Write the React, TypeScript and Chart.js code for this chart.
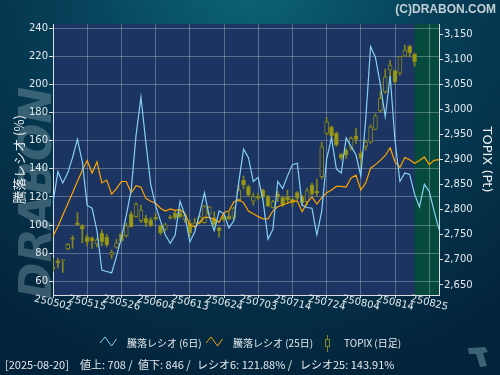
import { useEffect, useRef } from "react";
import { Chart, registerables } from "chart.js";

Chart.register(...registerables);

// ---------- data ----------
const dates = [
  "250502","250507","250508","250509","250512","250513","250514","250515","250516","250519",
  "250520","250521","250522","250523","250526","250527","250528","250529","250530",
  "250602","250603","250604","250605","250606","250609","250610","250611","250612","250613",
  "250616","250617","250618","250619","250620","250623","250624","250625","250626","250627","250630",
  "250701","250702","250703","250704","250707","250708","250709","250710","250711","250714",
  "250715","250716","250717","250718","250722","250723","250724","250725","250728","250729",
  "250730","250731",
  "250801","250804","250805","250806","250807","250808","250812","250813","250814","250815",
  "250818","250819","250820","250821","250822","250825","250826","250827",
];

const ratio6 = [
  116,138,130,137,148,161,145,114,112,96,
  68,67,66,78,91,107,125,164,191,159,
  129,114,103,93,87,93,117,107,88,95,
  108,123,106,96,110,108,98,103,130,154,
  148,131,134,117,90,97,131,126,135,143,
  144,114,112.5,112,93,110,147,162,140,137,
  162,156,150,135,175,227,219,200,177,206,
  160,131,137,136,122,113,129,124,110,97,
];

const ratio25 = [
  92,99,107,115,123,131,139,146,137,145,
  130,132,122,126,131,131,123,128,127,119,
  117,115.5,112,110,111.5,110.5,111,108,100,99,
  102,105.5,105.5,104,102,109,110,116.5,118,116,
  110,108,106,104.5,104.5,110,113,114.5,115.5,117,
  117,109.5,116,120,115,119.5,123,125,127.5,127.5,
  127,133.5,135.5,125,130,140.5,143,146,149.5,155,
  145,141,148,146.5,144,146,148.5,143,146,146.5,
];

const topixOpen = [
  2686,2698,2698,2722,2744,2774,2768,2746,2744,2732,
  2753,2745,2710,2725,2751,2748,2791,2786,2778,2783,
  2780,2785,2768,2761,2786,2793,2793,2780,2773,2766,
  2774,2774,2791,2784,2764,2787,2787,2783,2819,2859,
  2846,2817,2827,2839,2826,2804,2831,2824,2826,2821,
  2834,2826,2816,2849,2837,2866,2952,2964,2952,2911,
  2919,2922,2947,2913,2926,2935,2960,2997,3035,3078,
  3077,3072,3106,3126,3110,
];
const topixHigh = [
  2703,2703,2701,2733,2748,2794,2771,2750,2746,2744,
  2760,2751,2720,2741,2754,2773,2796,2814,2809,2789,
  2784,2793,2770,2773,2789,2798,2801,2793,2780,2783,
  2789,2809,2807,2796,2766,2793,2794,2806,2849,2867,
  2849,2833,2833,2841,2829,2819,2836,2827,2839,2823,
  2836,2829,2843,2853,2861,2935,2984,2967,2955,2912,
  2922,2945,2962,2916,2939,2969,2991,3035,3080,3098,
  3078,3106,3128,3128,3112,
];
const topixLow = [
  2677,2684,2675,2720,2723,2769,2734,2728,2723,2726,
  2728,2726,2703,2723,2736,2745,2765,2785,2774,2766,
  2766,2780,2750,2758,2781,2781,2783,2774,2746,2763,
  2772,2773,2789,2766,2745,2776,2780,2780,2816,2841,
  2826,2809,2819,2823,2806,2803,2816,2806,2813,2806,
  2819,2809,2809,2829,2826,2861,2949,2939,2926,2899,
  2902,2919,2932,2886,2919,2932,2959,2995,3032,3052,
  3052,3068,3105,3104,3086,
];
const topixClose = [
  2682,2694,2700,2731,2741,2770,2761,2736,2738,2740,
  2736,2730,2715,2734,2738,2768,2766,2811,2799,2774,
  2768,2781,2754,2770,2783,2784,2786,2789,2754,2774,
  2786,2806,2805,2770,2758,2780,2781,2803,2839,2849,
  2829,2826,2823,2826,2807,2816,2825,2809,2819,2814,
  2823,2814,2838,2831,2833,2925,2975,2947,2929,2903,
  2909,2942,2940,2902,2935,2965,2987,3022,3064,3088,
  3055,3105,3118,3113,3095,
];

const leftTicks = [60, 80, 100, 120, 140, 160, 180, 200, 220, 240];
const rightTicks = [2650, 2700, 2750, 2800, 2850, 2900, 2950, 3000, 3050, 3100, 3150];
const labelEvery = 7;
const lastDataIndex = 74;

const footerDate = "2025-08-20";
const advances = 708;
const declines = 846;
const ratio6Last = "121.88";
const ratio25Last = "143.91";

const legendLabels = ["騰落レシオ (6日)", "騰落レシオ (25日)", "TOPIX (日足)"];

// ---------- styles ----------
const PLOT_BG = "#1b3461";
const FUTURE_BG = "#054a3c";
const GRID = "rgba(255,255,255,0.28)";
const AXIS = "#d8dee4";
const TEXT = "#e4eaee";
const BLUE = "#87d0f5";
const ORANGE = "#ffa500";
const CANDLE_FILL = "#9a9a16";
const CANDLE_EDGE = "#85851c";
const CJK = '"Noto Sans CJK JP", "DejaVu Sans", sans-serif';
const LATIN = '"DejaVu Sans", sans-serif';

const decorPlugin = {
  id: "decor",
  beforeDraw(chart: any) {
    const { ctx, chartArea: a, width, height } = chart;
    ctx.save();
    const g = ctx.createRadialGradient(250, -30, 10, 250, -30, 430);
    g.addColorStop(0, "#0b6474");
    g.addColorStop(0.45, "#063e56");
    g.addColorStop(1, "#03233a");
    ctx.fillStyle = g;
    ctx.fillRect(0, 0, width, height);

    // watermark
    ctx.save();
    ctx.translate(51, 193);
    ctx.rotate(-Math.PI / 2);
    ctx.font = 'italic bold 44px "DejaVu Sans"';
    ctx.textAlign = "center";
    ctx.textBaseline = "alphabetic";
    ctx.fillStyle = "rgba(120,150,165,0.45)";
    ctx.fillText("DRABON", 0, 0);
    ctx.restore();

    ctx.fillStyle = PLOT_BG;
    ctx.fillRect(a.left, a.top, a.right - a.left, a.bottom - a.top);
    const fx = chart.scales.x.getPixelForValue(lastDataIndex);
    ctx.fillStyle = FUTURE_BG;
    ctx.fillRect(fx, a.top, a.right - fx, a.bottom - a.top);
    ctx.restore();
  },
  afterDraw(chart: any) {
    const { ctx, chartArea: a } = chart;
    const xs = chart.scales.x;
    ctx.save();

    // x labels (slanted)
    ctx.font = `10px ${LATIN}`;
    ctx.fillStyle = TEXT;
    ctx.textAlign = "center";
    ctx.textBaseline = "middle";
    dates.forEach((d, i) => {
      if (i % labelEvery !== 0) return;
      const x = xs.getPixelForValue(i);
      ctx.save();
      ctx.translate(x, a.bottom + 8);
      ctx.rotate((13 * Math.PI) / 180);
      ctx.fillText(d, 0, 0);
      ctx.restore();
    });

    // axis titles
    ctx.save();
    ctx.translate(19, (a.top + a.bottom) / 2);
    ctx.rotate(-Math.PI / 2);
    ctx.font = `13px ${CJK}`;
    ctx.fillStyle = "#eef2f4";
    ctx.textAlign = "center";
    ctx.textBaseline = "middle";
    ctx.fillText("騰落レシオ (%)", 0, 0);
    ctx.restore();

    ctx.save();
    ctx.translate(486, (a.top + a.bottom) / 2);
    ctx.rotate(Math.PI / 2);
    ctx.font = `13px ${LATIN}`;
    ctx.fillStyle = "#eef2f4";
    ctx.textAlign = "center";
    ctx.textBaseline = "middle";
    ctx.fillText("TOPIX (Pt)", 0, 0);
    ctx.restore();

    // header
    ctx.font = 'bold 12px "Liberation Sans", sans-serif';
    ctx.fillStyle = "#c4cfd6";
    ctx.textAlign = "right";
    ctx.textBaseline = "alphabetic";
    ctx.fillText("(C)DRABON.COM", 496, 13);

    // legend
    const ly = 343;
    const zig = (x0: number, col: string) => {
      ctx.strokeStyle = col;
      ctx.lineWidth = 1;
      ctx.beginPath();
      ctx.moveTo(x0, ly);
      ctx.lineTo(x0 + 5, ly - 6);
      ctx.lineTo(x0 + 11.5, ly + 3);
      ctx.lineTo(x0 + 16.5, ly - 4);
      ctx.stroke();
    };
    zig(100, BLUE);
    zig(206, ORANGE);
    ctx.strokeStyle = CANDLE_EDGE;
    ctx.beginPath();
    ctx.moveTo(327.5, 335);
    ctx.lineTo(327.5, 352);
    ctx.stroke();
    ctx.fillStyle = "#06304a";
    ctx.fillRect(325, 339, 5, 8);
    ctx.strokeRect(325.5, 339.5, 4, 7);

    ctx.font = `10px ${CJK}`;
    ctx.fillStyle = TEXT;
    ctx.textAlign = "left";
    ctx.textBaseline = "middle";
    ctx.fillText(legendLabels[0], 127, ly);
    ctx.fillText(legendLabels[1], 233, ly);
    ctx.fillText(legendLabels[2], 344, ly);

    // footer
    ctx.font = `11px ${CJK}`;
    ctx.textBaseline = "alphabetic";
    const segs: [string, number][] = [
      [`[${footerDate}]`, 5],
      [`値上: ${advances} /`, 80],
      [`値下: ${declines} /`, 138],
      [`レシオ6: ${ratio6Last}% /`, 197],
      [`レシオ25: ${ratio25Last}%`, 300],
    ];
    segs.forEach(([t, x]) => ctx.fillText(t, x, 369));

    // small logo
    ctx.fillStyle = "#3c6276";
    ctx.beginPath();
    ctx.moveTo(468, 348);
    ctx.lineTo(485, 347);
    ctx.lineTo(488, 352);
    ctx.lineTo(483, 353);
    ctx.lineTo(487, 366);
    ctx.lineTo(480, 367);
    ctx.lineTo(476, 354);
    ctx.lineTo(469, 354);
    ctx.closePath();
    ctx.fill();

    ctx.restore();
  },
};

export default function App() {
  const ref = useRef<HTMLCanvasElement>(null);

  useEffect(() => {
    if (!ref.current) return;
    const n = topixOpen.length;
    const body = dates.map((_, i) => (i < n ? [topixOpen[i], topixClose[i]] : null));
    const wick = dates.map((_, i) => (i < n ? [topixLow[i], topixHigh[i]] : null));
    const bodyBg = dates.map((_, i) =>
      i < n && topixClose[i] < topixOpen[i] ? CANDLE_FILL : PLOT_BG
    );

    const chart = new Chart(ref.current, {
      type: "line",
      data: {
        labels: dates,
        datasets: [
          {
            type: "line",
            label: legendLabels[0],
            data: ratio6,
            yAxisID: "y",
            borderColor: BLUE,
            borderWidth: 1.2,
            pointRadius: 0,
            tension: 0,
            order: 0,
          },
          {
            type: "line",
            label: legendLabels[1],
            data: ratio25,
            yAxisID: "y",
            borderColor: ORANGE,
            borderWidth: 1.2,
            pointRadius: 0,
            tension: 0,
            order: 0,
          },
          {
            type: "bar",
            label: "body",
            data: body as any,
            yAxisID: "y2",
            backgroundColor: bodyBg,
            borderColor: CANDLE_EDGE,
            borderWidth: 1,
            borderSkipped: false,
            barThickness: 4,
            grouped: false,
            order: 1,
          },
          {
            type: "bar",
            label: "wick",
            data: wick as any,
            yAxisID: "y2",
            backgroundColor: CANDLE_EDGE,
            borderWidth: 0,
            barThickness: 1,
            grouped: false,
            order: 2,
          },
        ],
      } as any,
      options: {
        responsive: false,
        animation: false,
        events: [],
        layout: { padding: { top: 24, left: 0, right: 0, bottom: 0 } },
        plugins: { legend: { display: false }, tooltip: { enabled: false } },
        scales: {
          x: {
            type: "category",
            offset: false,
            grid: {
              offset: false,
              color: (c: any) => (c.index % labelEvery === 0 ? GRID : "rgba(0,0,0,0)"),
              tickColor: (c: any) => (c.index % labelEvery === 0 ? AXIS : "rgba(0,0,0,0)"),
              tickLength: 3,
            },
            border: { color: AXIS },
            ticks: { display: false, autoSkip: false },
            afterFit: (s: any) => {
              s.height = 80;
            },
          },
          y: {
            type: "linear",
            position: "left",
            min: 50.3,
            max: 243,
            afterBuildTicks: (s: any) => {
              s.ticks = leftTicks.map((v) => ({ value: v }));
            },
            ticks: { color: TEXT, font: { family: "DejaVu Sans", size: 10 }, padding: 1 },
            grid: { color: GRID, tickColor: AXIS, tickLength: 4 },
            border: { color: AXIS },
            afterFit: (s: any) => {
              s.width = 53;
            },
          },
          y2: {
            type: "linear",
            position: "right",
            min: 2630,
            max: 3170,
            afterBuildTicks: (s: any) => {
              s.ticks = rightTicks.map((v) => ({ value: v }));
            },
            ticks: {
              color: TEXT,
              font: { family: "DejaVu Sans", size: 10 },
              padding: 1,
              callback: (v: any) => Number(v).toLocaleString("en-US"),
            },
            grid: { drawOnChartArea: false, tickColor: AXIS, tickLength: 4 },
            border: { color: AXIS },
            afterFit: (s: any) => {
              s.width = 61;
            },
          },
        },
      } as any,
      plugins: [decorPlugin],
    });
    return () => chart.destroy();
  }, []);

  return (
    <div style={{ position: "absolute", left: 0, top: 0, width: 500, height: 375 }}>
      <canvas ref={ref} width={500} height={375} style={{ display: "block" }} />
    </div>
  );
}
